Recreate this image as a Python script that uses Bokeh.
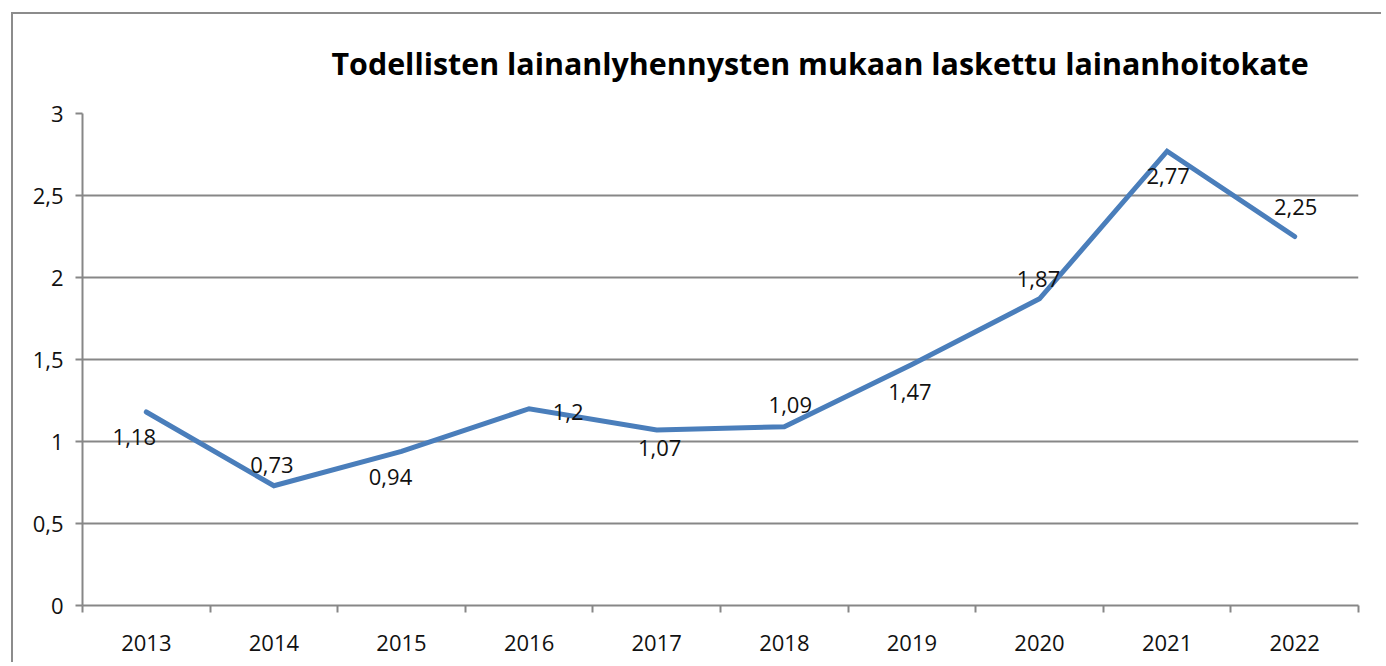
from bokeh.plotting import figure
from bokeh.models import ColumnDataSource, LabelSet, FixedTicker, Range1d, CustomJSTickFormatter, Title
from bokeh.core.properties import value
from bokeh.embed import file_html
from bokeh.resources import INLINE

years = ["2013", "2014", "2015", "2016", "2017", "2018", "2019", "2020", "2021", "2022"]
values = [1.18, 0.73, 0.94, 1.2, 1.07, 1.09, 1.47, 1.87, 2.77, 2.25]
value_labels = ["1,18", "0,73", "0,94", "1,2", "1,07", "1,09", "1,47", "1,87", "2,77", "2,25"]
title_text = "Todellisten lainanlyhennysten mukaan laskettu lainanhoitokate"

# label placement (style): screen px offsets
label_dx = [-12, -2, -11, 39, 3, 6, -2, -1, 1, 1]
label_dy = [-25, 21, -26, -3, -18, 22, -28, 20, -25, 30]

xpos = list(range(1, len(years) + 1))
src = ColumnDataSource(dict(x=xpos, y=values, lab=value_labels, dx=label_dx, dy=label_dy))

GRID = "#878787"
FONT = "Open Sans"

p = figure(width=1370, height=650, output_backend="svg", toolbar_location=None,
           x_range=Range1d(0.5, len(years) + 0.5), y_range=Range1d(0, 3),
           min_border_left=69, min_border_right=25, min_border_top=99, min_border_bottom=59)
p.margin = (12, 0, 0, 11)
p.styles = {"border-top": "2px solid #8c8c8c", "border-left": "2px solid #8c8c8c"}
p.outline_line_color = None
p.background_fill_color = "white"
p.border_fill_color = "white"

t = Title(text=title_text, align="left", offset=249, standoff=55, vertical_align="top",
          text_font=FONT, text_font_size="30.4px", text_font_style="bold", text_color="black")
p.add_layout(t, "above")

p.line("x", "y", source=src, line_color="#4a7ebb", line_width=5, line_cap="round", line_join="miter")

labels = LabelSet(x="x", y="y", text="lab", x_offset="dx", y_offset="dy", source=src,
                  text_align="center", text_baseline="middle", text_font=value(FONT),
                  text_font_size="22px", text_color="#111111")
p.add_layout(labels)

# x axis
p.xaxis.ticker = FixedTicker(ticks=xpos, minor_ticks=[i + 0.5 for i in range(0, len(years) + 1)])
p.xaxis.major_label_overrides = {i: y for i, y in zip(xpos, years)}
p.xaxis.major_tick_out = 0
p.xaxis.major_tick_in = 0
p.xaxis.minor_tick_out = 7
p.xaxis.minor_tick_in = 0
p.xaxis.minor_tick_line_color = GRID
p.xaxis.minor_tick_line_width = 2
p.xaxis.axis_line_color = GRID
p.xaxis.axis_line_width = 2
p.xaxis.major_label_standoff = 22
p.xaxis.major_label_text_font = FONT
p.xaxis.major_label_text_font_size = "22px"
p.xaxis.major_label_text_color = "#111111"
p.xgrid.grid_line_color = None

# y axis
p.yaxis.ticker = FixedTicker(ticks=[0, 0.5, 1, 1.5, 2, 2.5, 3], minor_ticks=[])
p.yaxis.formatter = CustomJSTickFormatter(code="return String(tick).replace('.', ',');")
p.yaxis.major_tick_out = 7
p.yaxis.major_tick_in = 0
p.yaxis.major_tick_line_color = GRID
p.yaxis.major_tick_line_width = 2
p.yaxis.minor_tick_line_color = None
p.yaxis.axis_line_color = GRID
p.yaxis.axis_line_width = 2
p.yaxis.major_label_standoff = 12
p.yaxis.major_label_text_font = FONT
p.yaxis.major_label_text_font_size = "22px"
p.yaxis.major_label_text_color = "#111111"
p.ygrid.grid_line_color = GRID
p.ygrid.grid_line_width = 2

open("out.html", "w").write(file_html(p, INLINE))
